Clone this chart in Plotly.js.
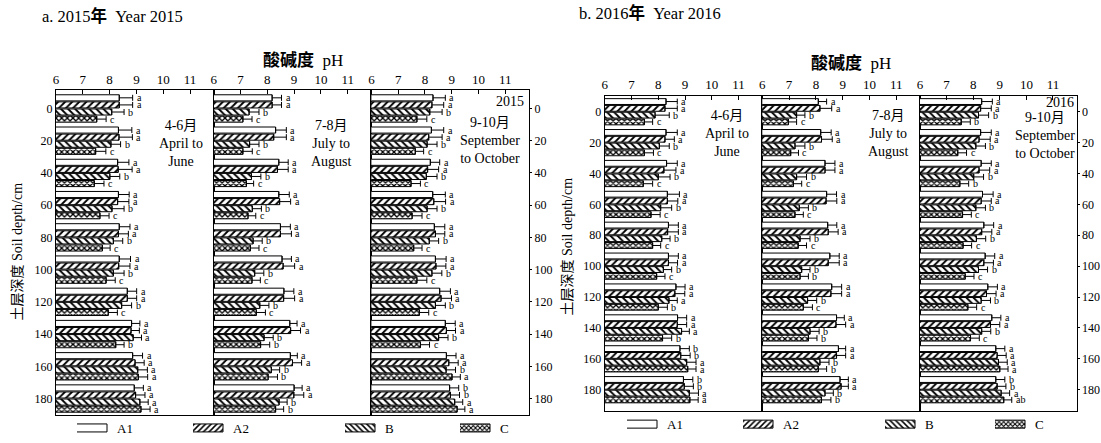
<!DOCTYPE html>
<html><head><meta charset="utf-8">
<script src="https://cdn.plot.ly/plotly-3.0.1.min.js"></script>
<style>html,body{margin:0;padding:0;background:#fff;}</style>
</head><body><div id="chart" style="width:1101px;height:443px;"></div>
<script>
// ---------------- DATA ----------------
const depths = [0, 20, 40, 60, 80, 100, 120, 140, 160, 180];
const treatments = ['A1', 'A2', 'B', 'C'];
const xTicks = [6, 7, 8, 9, 10, 11];
const years = ['2015', '2016'];
const figTitles = ['a. 2015<b>年</b>\u00A0 Year 2015', 'b. 2016<b>年</b>\u00A0 Year 2016'];
const periodLabels = ['4-6月<br>April to<br>June', '7-8月<br>July to<br>August', '9-10月<br>September<br>to October'];
const xTitle = '<b>酸碱度</b>\u00A0 pH';
const yTitle = '土层深度 Soil depth/cm';

// pH means, rows = A1, A2, B, C ; columns = depths
const pH_2015_AprJun = [
  [8.36, 8.33, 8.30, 8.33, 8.36, 8.36, 8.66, 8.82, 8.86, 8.92],
  [8.36, 8.35, 8.32, 8.30, 8.33, 8.34, 8.66, 8.80, 8.95, 8.97],
  [8.08, 8.05, 8.01, 8.09, 8.14, 8.14, 8.45, 8.88, 9.05, 9.13],
  [7.52, 7.48, 7.43, 7.64, 7.73, 7.87, 7.95, 8.23, 9.07, 9.17]];
const se_2015_AprJun = [
  [0.50, 0.50, 0.42, 0.40, 0.40, 0.42, 0.35, 0.31, 0.37, 0.34],
  [0.50, 0.50, 0.52, 0.42, 0.37, 0.42, 0.35, 0.31, 0.34, 0.35],
  [0.46, 0.36, 0.37, 0.45, 0.35, 0.40, 0.37, 0.31, 0.36, 0.31],
  [0.35, 0.38, 0.36, 0.34, 0.29, 0.34, 0.34, 0.31, 0.35, 0.34]];
const sig_2015_AprJun = [
  ['a','a','a','a','a','a','a','a','a','a'],
  ['a','a','a','a','a','a','a','a','a','a'],
  ['b','b','b','b','b','b','b','a','a','a'],
  ['c','c','c','c','c','c','c','b','a','a']];

const pH_2015_JulAug = [
  [8.18, 8.31, 8.43, 8.43, 8.49, 8.55, 8.62, 8.84, 8.86, 9.00],
  [8.18, 8.24, 8.38, 8.46, 8.49, 8.59, 8.61, 8.87, 8.94, 8.99],
  [7.32, 7.34, 7.41, 7.44, 7.47, 7.53, 7.72, 7.88, 8.15, 8.44],
  [7.09, 7.09, 7.22, 7.28, 7.37, 7.43, 7.59, 7.75, 8.03, 8.31]];
const se_2015_JulAug = [
  [0.35, 0.40, 0.35, 0.39, 0.37, 0.35, 0.37, 0.27, 0.26, 0.30],
  [0.35, 0.47, 0.40, 0.41, 0.41, 0.43, 0.41, 0.37, 0.34, 0.37],
  [0.37, 0.35, 0.35, 0.34, 0.34, 0.34, 0.34, 0.34, 0.31, 0.30],
  [0.34, 0.35, 0.27, 0.29, 0.32, 0.31, 0.34, 0.34, 0.35, 0.30]];
const sig_2015_JulAug = [
  ['a','a','a','a','a','a','a','a','a','a'],
  ['a','a','a','a','a','a','a','a','a','a'],
  ['b','b','b','b','b','b','b','b','b','b'],
  ['c','c','c','c','c','c','c','b','b','b']];

const pH_2015_SepOct = [
  [8.30, 8.24, 8.20, 8.29, 8.35, 8.39, 8.55, 8.76, 8.80, 8.92],
  [8.26, 8.14, 8.10, 8.33, 8.39, 8.41, 8.60, 8.80, 8.89, 8.95],
  [8.18, 8.08, 8.05, 8.08, 8.16, 8.26, 8.39, 8.51, 8.79, 9.11],
  [7.70, 7.64, 7.48, 7.52, 7.58, 7.70, 7.79, 7.83, 9.01, 9.20]];
const se_2015_SepOct = [
  [0.46, 0.46, 0.35, 0.47, 0.39, 0.40, 0.40, 0.37, 0.36, 0.34],
  [0.44, 0.50, 0.41, 0.44, 0.35, 0.37, 0.39, 0.34, 0.35, 0.34],
  [0.46, 0.37, 0.40, 0.37, 0.35, 0.37, 0.37, 0.35, 0.35, 0.30],
  [0.37, 0.31, 0.35, 0.37, 0.31, 0.37, 0.35, 0.34, 0.31, 0.29]];
const sig_2015_SepOct = [
  ['a','a','a','a','a','a','a','a','a','b'],
  ['a','a','a','a','a','a','a','a','a','b'],
  ['b','b','b','b','b','b','b','b','b','a'],
  ['c','c','c','c','c','c','c','c','a','a']];

const pH_2016_AprJun = [
  [8.29, 8.29, 8.31, 8.34, 8.38, 8.38, 8.66, 8.72, 8.81, 8.94],
  [8.25, 8.25, 8.21, 8.34, 8.35, 8.38, 8.62, 8.71, 8.84, 8.97],
  [7.88, 8.04, 8.00, 8.09, 8.13, 8.19, 8.40, 8.87, 9.06, 9.16],
  [7.48, 7.48, 7.44, 7.73, 7.79, 7.94, 8.00, 8.16, 9.10, 9.18]];
const se_2016_AprJun = [
  [0.42, 0.42, 0.40, 0.45, 0.37, 0.37, 0.34, 0.34, 0.35, 0.35],
  [0.46, 0.35, 0.45, 0.39, 0.40, 0.34, 0.37, 0.35, 0.35, 0.34],
  [0.53, 0.37, 0.44, 0.41, 0.31, 0.31, 0.31, 0.29, 0.35, 0.34],
  [0.31, 0.34, 0.35, 0.34, 0.30, 0.31, 0.34, 0.34, 0.31, 0.31]];
const sig_2016_AprJun = [
  ['a','a','a','a','a','a','a','a','b','b'],
  ['a','a','a','a','a','a','a','a','b','b'],
  ['b','b','b','b','b','b','a','a','a','a'],
  ['c','c','c','c','c','c','b','b','a','a']];

const pH_2016_JulAug = [
  [8.09, 8.18, 8.34, 8.40, 8.44, 8.52, 8.59, 8.77, 8.84, 8.90],
  [8.15, 8.21, 8.34, 8.38, 8.46, 8.46, 8.56, 8.75, 8.77, 8.94],
  [7.28, 7.22, 7.28, 7.38, 7.41, 7.47, 7.69, 7.78, 8.15, 8.34],
  [6.97, 7.06, 7.16, 7.22, 7.34, 7.41, 7.53, 7.72, 8.09, 8.21]];
const se_2016_JulAug = [
  [0.31, 0.39, 0.37, 0.37, 0.34, 0.35, 0.37, 0.29, 0.27, 0.31],
  [0.44, 0.40, 0.37, 0.40, 0.37, 0.41, 0.40, 0.36, 0.34, 0.27],
  [0.31, 0.37, 0.37, 0.34, 0.37, 0.31, 0.34, 0.34, 0.34, 0.31],
  [0.31, 0.29, 0.31, 0.31, 0.31, 0.31, 0.34, 0.32, 0.31, 0.35]];
const sig_2016_JulAug = [
  ['a','a','a','a','a','a','a','a','a','a'],
  ['a','a','a','a','a','a','a','a','a','a'],
  ['b','b','b','b','b','b','b','b','b','b'],
  ['c','c','c','c','c','b','c','b','b','b']];

const pH_2016_SepOct = [
  [8.32, 8.28, 8.30, 8.35, 8.40, 8.45, 8.55, 8.70, 8.85, 8.85],
  [8.28, 8.22, 8.22, 8.30, 8.32, 8.40, 8.50, 8.65, 8.90, 8.90],
  [8.20, 8.10, 8.02, 8.10, 8.12, 8.20, 8.30, 8.32, 8.95, 9.05],
  [7.55, 7.42, 7.50, 7.60, 7.62, 7.70, 7.80, 7.90, 9.00, 9.15]];
const se_2016_SepOct = [
  [0.40, 0.40, 0.38, 0.40, 0.37, 0.36, 0.36, 0.34, 0.34, 0.34],
  [0.40, 0.42, 0.40, 0.38, 0.38, 0.36, 0.36, 0.35, 0.34, 0.33],
  [0.38, 0.36, 0.37, 0.36, 0.35, 0.34, 0.35, 0.34, 0.33, 0.32],
  [0.34, 0.33, 0.33, 0.33, 0.32, 0.33, 0.33, 0.33, 0.31, 0.30]];
const sig_2016_SepOct = [
  ['a','a','a','a','a','a','a','a','a','b'],
  ['a','a','a','a','a','a','a','a','a','b'],
  ['b','b','b','b','b','b','b','b','a','a'],
  ['b','c','b','c','c','c','c','c','a','ab']];

const panels = [
  [pH_2015_AprJun, se_2015_AprJun, sig_2015_AprJun],
  [pH_2015_JulAug, se_2015_JulAug, sig_2015_JulAug],
  [pH_2015_SepOct, se_2015_SepOct, sig_2015_SepOct],
  [pH_2016_AprJun, se_2016_AprJun, sig_2016_AprJun],
  [pH_2016_JulAug, se_2016_JulAug, sig_2016_JulAug],
  [pH_2016_SepOct, se_2016_SepOct, sig_2016_SepOct]];

// ---------------- STYLE / LAYOUT ----------------
const W = 1101, H = 443;
const PX = p => p / W, PY = p => 1 - p / H;
const FONT = 'Liberation Serif, Times New Roman, Noto Sans CJK SC, serif';
const BARGAP = 0.12, GROUPGAP = 0.14;
const patterns = [
  {shape: '', fgcolor: '#000', bgcolor: '#fff'},
  {shape: '/', fgcolor: '#000', bgcolor: '#fff', size: 5, solidity: 0.38},
  {shape: '\\', fgcolor: '#000', bgcolor: '#fff', size: 5, solidity: 0.38},
  {shape: 'x', fgcolor: '#000', bgcolor: '#fff', size: 4, solidity: 0.55}];

// figure geometry (pixels)
const figGeom = [
  {xs: [56, 213.7, 371.4, 529], top: 91, bottom: 420.5, yr: [190.1, -11.6],
   titleX: 40, titleY: 16, xtX: 303, xtY: 61, ytX: 18, ytY: 255,
   legY: 434, legLabelX: [117, 233, 385, 500], yearX: 510, yearY: 103,
   perX: [181, 331, 490], perY: [145, 145, 142]},
  {xs: [604.7, 762.3, 920, 1076.5], top: 97, bottom: 416.5, yr: [193.7, -10.4],
   titleX: 577, titleY: 13, xtX: 851, xtY: 64, ytX: 568, ytY: 250,
   legY: 430, legLabelX: [667, 783, 925, 1035], yearX: 1060, yearY: 104,
   perX: [727, 888, 1045], perY: [135, 135, 137]}];

const xMax = 6 + (157.7 / 26.8);
const traces = [];
const annotations = [];
const layout = {
  width: W, height: H, margin: {l: 0, r: 0, t: 0, b: 0},
  paper_bgcolor: '#fff', plot_bgcolor: '#fff',
  barmode: 'group', bargap: BARGAP, bargroupgap: GROUPGAP,
  font: {family: FONT, size: 13, color: '#000'},
  showlegend: true, annotations: annotations
};

const slot = 20 * (1 - BARGAP) / treatments.length;

panels.forEach((pan, p) => {
  const f = Math.floor(p / 3), k = p % 3;
  const g = figGeom[f];
  const n = p + 1;
  const xa = 'xaxis' + (n === 1 ? '' : n), ya = 'yaxis' + (n === 1 ? '' : n);
  const xr = 'x' + (n === 1 ? '' : n), yr = 'y' + (n === 1 ? '' : n);
  const pxPerUnit = (g.xs[k + 1] - g.xs[k]) / (xMax - 6);
  layout[xa] = {
    domain: [PX(g.xs[k]), PX(g.xs[k + 1])], range: [6, xMax], anchor: yr,
    side: 'top', tickvals: xTicks, ticks: 'inside', ticklen: 4, tickcolor: '#000',
    showline: true, mirror: true, linecolor: '#000', linewidth: 1,
    showgrid: false, zeroline: false, tickfont: {family: FONT, size: 13}, fixedrange: true
  };
  layout[ya] = {
    domain: [PY(g.bottom), PY(g.top)], range: g.yr, anchor: xr,
    tickvals: depths, showticklabels: k !== 1, side: k === 2 ? 'right' : 'left',
    ticks: k === 2 ? 'outside' : '', ticklen: 2, tickcolor: '#000',
    showline: true, mirror: true, linecolor: '#000', linewidth: 1,
    showgrid: false, zeroline: false, tickfont: {family: FONT, size: 12}, fixedrange: true
  };
  const [vals, errs, sigs] = pan;
  treatments.forEach((t, i) => {
    traces.push({
      type: 'bar', orientation: 'h', name: t,
      x: vals[i], y: depths, xaxis: xr, yaxis: yr,
      marker: {color: '#fff', line: {color: '#000', width: 1}, pattern: patterns[i]},
      error_x: {type: 'data', array: errs[i], symmetric: false, arrayminus: errs[i].map(() => 0),
                color: '#000', thickness: 1, width: 3},
      showlegend: k === 0,
      legend: 'legend' + ((f * 4 + i) === 0 ? '' : (f * 4 + i + 1)),
      hoverinfo: 'x+y+name'
    });
    depths.forEach((d, j) => {
      annotations.push({
        xref: xr, yref: yr, x: vals[i][j] + errs[i][j], y: d + (i - 1.5) * slot,
        text: sigs[i][j], showarrow: false, xanchor: 'left', yanchor: 'middle', xshift: 2,
        font: {family: FONT, size: 10}
      });
    });
  });
  annotations.push({
    xref: 'paper', yref: 'paper', x: PX(g.perX[k]), y: PY(g.perY[k]),
    text: periodLabels[k], showarrow: false, xanchor: 'center', yanchor: 'middle',
    font: {family: FONT, size: 14}
  });
});

figGeom.forEach((g, f) => {
  annotations.push({xref: 'paper', yref: 'paper', x: PX(g.titleX), y: PY(g.titleY),
    text: figTitles[f], showarrow: false, xanchor: 'left', yanchor: 'middle',
    font: {family: FONT, size: 16.5}});
  annotations.push({xref: 'paper', yref: 'paper', x: PX(g.xtX), y: PY(g.xtY),
    text: xTitle, showarrow: false, xanchor: 'center', yanchor: 'middle',
    font: {family: FONT, size: 17}});
  annotations.push({xref: 'paper', yref: 'paper', x: PX(g.ytX), y: PY(g.ytY),
    text: yTitle, showarrow: false, textangle: -90, xanchor: 'center', yanchor: 'middle',
    font: {family: FONT, size: 14}});
  annotations.push({xref: 'paper', yref: 'paper', x: PX(g.yearX), y: PY(g.yearY),
    text: years[f], showarrow: false, xanchor: 'center', yanchor: 'middle',
    font: {family: FONT, size: 14}});
  treatments.forEach((t, i) => {
    const idx = f * 4 + i;
    const key = 'legend' + (idx === 0 ? '' : idx + 1);
    layout[key] = {
      x: PX(g.legLabelX[i] - 40), y: PY(g.legY), xanchor: 'left', yanchor: 'middle',
      orientation: 'h', bgcolor: 'rgba(0,0,0,0)', borderwidth: 0,
      font: {family: FONT, size: 13}, itemclick: false, itemdoubleclick: false
    };
  });
});

Plotly.newPlot('chart', traces, layout, {displayModeBar: false, staticPlot: true}).then(gd => {
  gd.querySelectorAll('.legendpoints path').forEach(p => {
    if (p.getAttribute('d') && p.getAttribute('d').indexOf('M6,6H-6V-6H6Z') === 0) {
      p.setAttribute('d', 'M-23,4H10V-4H-23Z');
    }
  });
});
</script>
</body></html>
